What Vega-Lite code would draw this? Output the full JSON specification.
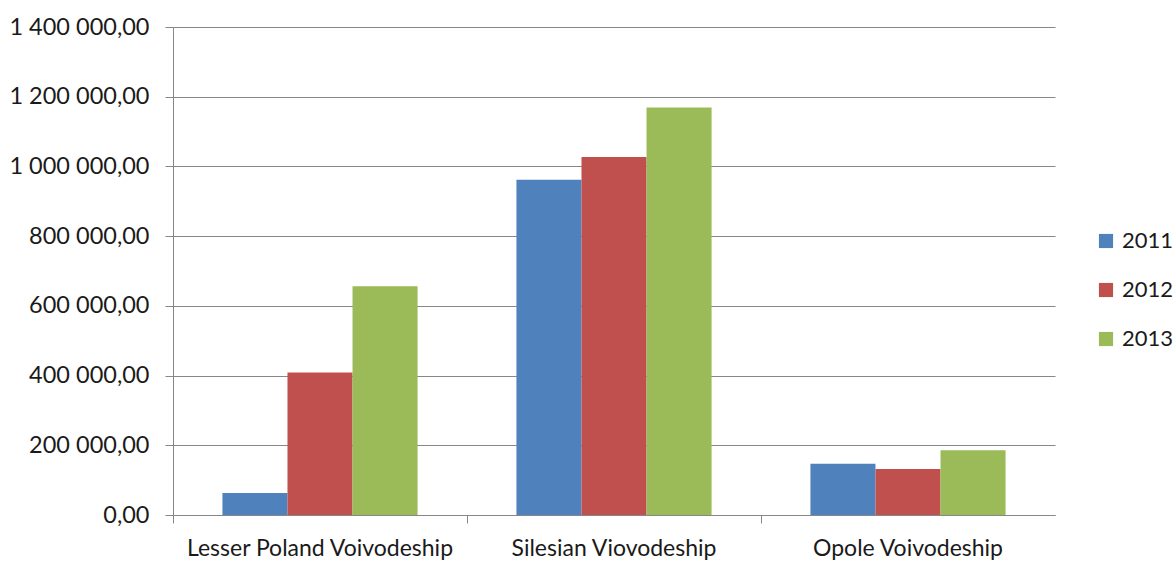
{
  "$schema": "https://vega.github.io/schema/vega-lite/v6.json",
  "width": 882,
  "height": 488,
  "autosize": "none",
  "padding": {"left": 173, "top": 27, "right": 118, "bottom": 46},
  "background": "white",
  "config": {
    "locale": {"number": {"decimal": ",", "thousands": " ", "grouping": [3], "currency": ["", ""]}},
    "view": {"stroke": null},
    "font": "Lato"
  },
  "data": {
    "values": [
      {"region": "Lesser Poland Voivodeship", "year": "2011", "value": 63000},
      {"region": "Lesser Poland Voivodeship", "year": "2012", "value": 409000},
      {"region": "Lesser Poland Voivodeship", "year": "2013", "value": 656000},
      {"region": "Silesian Viovodeship", "year": "2011", "value": 962000},
      {"region": "Silesian Viovodeship", "year": "2012", "value": 1027000},
      {"region": "Silesian Viovodeship", "year": "2013", "value": 1169000},
      {"region": "Opole Voivodeship", "year": "2011", "value": 147000},
      {"region": "Opole Voivodeship", "year": "2012", "value": 132000},
      {"region": "Opole Voivodeship", "year": "2013", "value": 186000}
    ]
  },
  "mark": {"type": "bar"},
  "encoding": {
    "x": {
      "field": "region",
      "type": "nominal",
      "sort": null,
      "scale": {"paddingInner": 0, "paddingOuter": 0},
      "axis": {
        "title": null,
        "labelAngle": 0,
        "labelFont": "Lato",
        "labelFontSize": 23,
        "labelColor": "#1a1a1a",
        "labelPadding": 14,
        "labelLimit": 0,
        "bandPosition": 0,
        "tickSize": 8,
        "tickColor": "#878787",
        "domainColor": "#878787",
        "grid": false
      }
    },
    "xOffset": {
      "field": "year",
      "type": "nominal",
      "scale": {"paddingInner": 0, "paddingOuter": 0.76}
    },
    "y": {
      "field": "value",
      "type": "quantitative",
      "scale": {"domain": [0, 1400000], "nice": false},
      "axis": {
        "title": null,
        "values": [0, 200000, 400000, 600000, 800000, 1000000, 1200000, 1400000],
        "format": ",.2f",
        "labelFont": "Lato",
        "labelFontSize": 23.5,
        "labelColor": "#1a1a1a",
        "labelPadding": 16,
        "tickSize": 8,
        "tickColor": "#878787",
        "domainColor": "#878787",
        "gridColor": "#878787",
        "grid": true
      }
    },
    "color": {
      "field": "year",
      "type": "nominal",
      "scale": {"domain": ["2011", "2012", "2013"], "range": ["#4F81BD", "#C0504D", "#9BBB59"]},
      "legend": {
        "title": null,
        "orient": "none",
        "legendX": 922,
        "legendY": 203,
        "padding": 0,
        "symbolType": "square",
        "symbolSize": 200,
        "symbolStrokeWidth": 0,
        "labelFont": "Lato",
        "labelFontSize": 22,
        "labelColor": "#1a1a1a",
        "rowPadding": 27,
        "labelOffset": 5,
        "labelLimit": 0
      }
    }
  }
}
